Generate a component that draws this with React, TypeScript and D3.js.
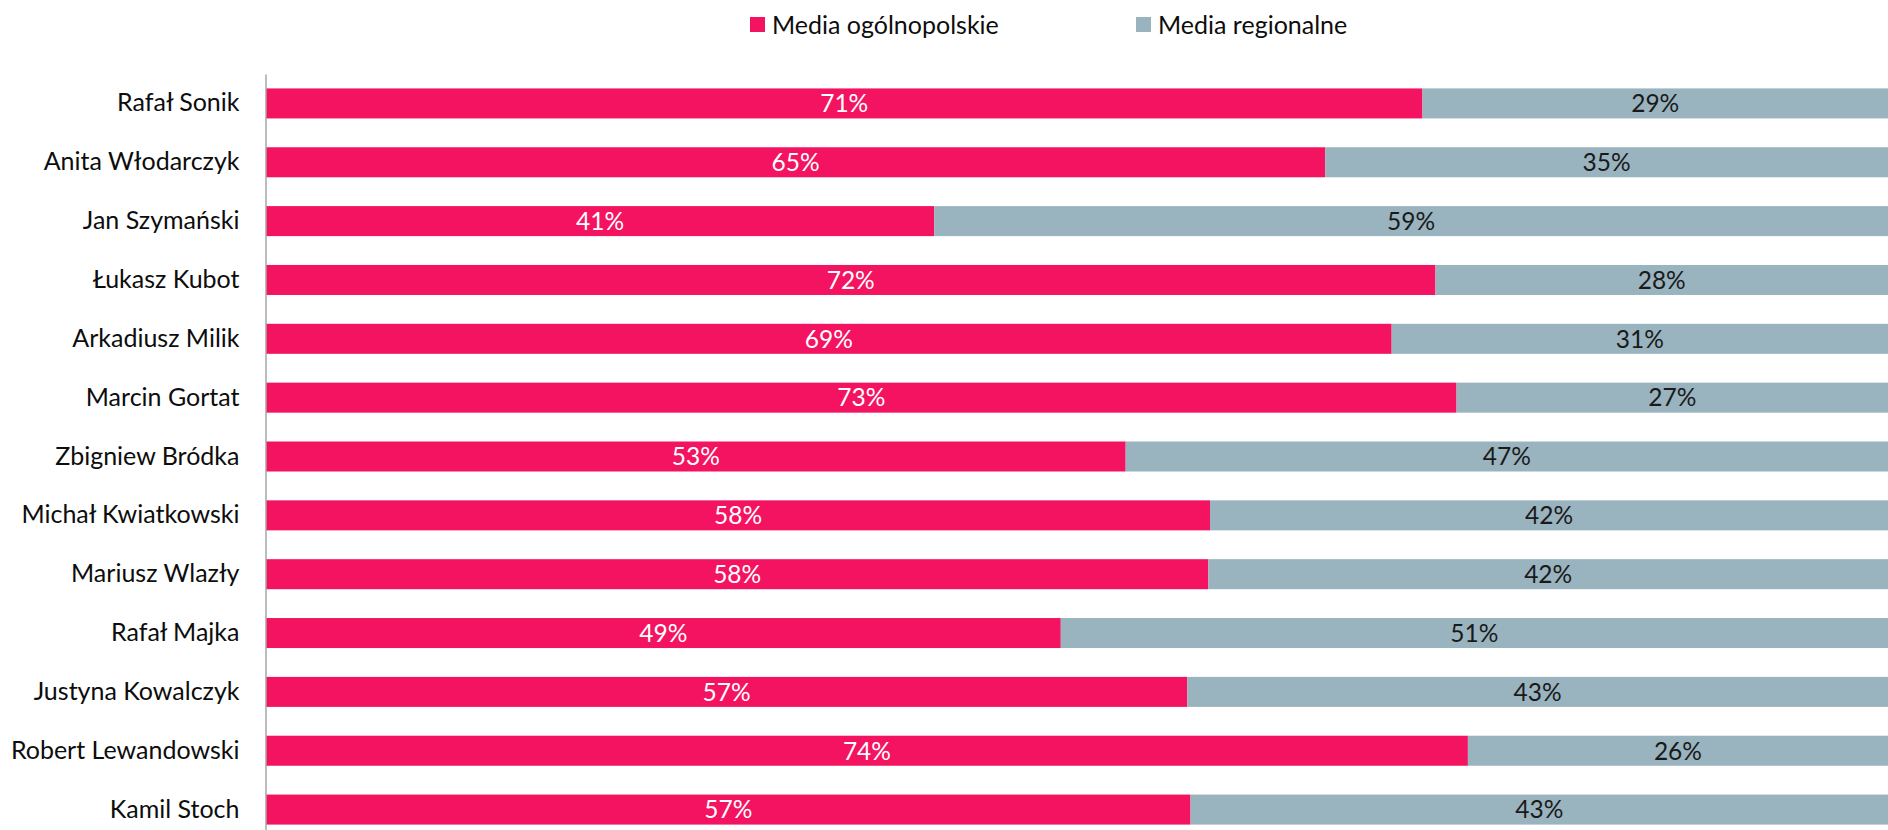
import { useEffect, useRef } from "react";
import * as d3 from "d3";

// athletes, top to bottom
const athletes = [
  "Rafał Sonik",
  "Anita Włodarczyk",
  "Jan Szymański",
  "Łukasz Kubot",
  "Arkadiusz Milik",
  "Marcin Gortat",
  "Zbigniew Bródka",
  "Michał Kwiatkowski",
  "Mariusz Wlazły",
  "Rafał Majka",
  "Justyna Kowalczyk",
  "Robert Lewandowski",
  "Kamil Stoch",
];

// share of coverage, in percent
const nationalShare = [71.3, 65.3, 41.2, 72.1, 69.4, 73.4, 53.0, 58.2, 58.1, 49.0, 56.8, 74.1, 57.0];
const regionalShare = [28.7, 34.7, 58.8, 27.9, 30.6, 26.6, 47.0, 41.8, 41.9, 51.0, 43.2, 25.9, 43.0];

const seriesKeys = ["national", "regional"];
const seriesNames = ["Media ogólnopolskie", "Media regionalne"];
const seriesColors = ["#F41360", "#99B3BF"];
const labelColors = ["#ffffff", "#1a1a1a"];

const FONT = "Lato, 'Open Sans', sans-serif";

function App() {
  const ref = useRef(null);

  useEffect(() => {
    document.body.style.margin = "0";

    const width = 1888;
    const height = 830;

    const root = d3.select(ref.current);
    root.selectAll("*").remove();

    const svg = root
      .append("svg")
      .attr("width", width)
      .attr("height", height)
      .style("display", "block")
      .style("font-family", FONT);

    const rows = athletes.map((name, i) => ({
      name,
      national: nationalShare[i],
      regional: regionalShare[i],
    }));

    const x = d3.scaleLinear().domain([0, 100]).range([266, width]);
    const y = d3
      .scaleBand()
      .domain(athletes)
      .range([74, 839])
      .paddingInner(0.49)
      .paddingOuter(0.245);

    const stacked = d3.stack().keys(seriesKeys)(rows);

    // bars
    const groups = svg
      .selectAll("g.series")
      .data(stacked)
      .enter()
      .append("g")
      .attr("class", "series")
      .attr("fill", (d, i) => seriesColors[i]);

    groups
      .selectAll("rect")
      .data((d) => d)
      .enter()
      .append("rect")
      .attr("x", (d) => x(d[0]))
      .attr("y", (d) => y(d.data.name))
      .attr("width", (d) => x(d[1]) - x(d[0]))
      .attr("height", y.bandwidth());

    // data labels
    stacked.forEach((s, si) => {
      svg
        .append("g")
        .selectAll("text")
        .data(s)
        .enter()
        .append("text")
        .attr("x", (d) => (x(d[0]) + x(d[1])) / 2)
        .attr("y", (d) => y(d.data.name) + y.bandwidth() / 2)
        .attr("dy", "0.36em")
        .attr("text-anchor", "middle")
        .attr("fill", labelColors[si])
        .style("font-size", "24.5px")
        .text((d) => `${Math.round(d[1] - d[0])}%`);
    });

    // category axis
    const axis = svg
      .append("g")
      .attr("transform", `translate(265.5,0)`)
      .call(d3.axisLeft(y).tickSize(0).tickPadding(26));
    axis.select(".domain").attr("stroke", "#a6a6a6").attr("stroke-width", 1.5);
    axis
      .selectAll("text")
      .attr("fill", "#0d0d0d")
      .style("font-size", "25px")
      .style("font-family", FONT);

    // legend
    const legend = svg.append("g");
    const legendX = [750, 1136];
    seriesNames.forEach((name, i) => {
      const g = legend.append("g").attr("transform", `translate(${legendX[i]},0)`);
      g.append("rect")
        .attr("x", 0)
        .attr("y", 17)
        .attr("width", 15)
        .attr("height", 15)
        .attr("fill", seriesColors[i]);
      g.append("text")
        .attr("x", 22)
        .attr("y", 25)
        .attr("dy", "0.36em")
        .attr("fill", "#0d0d0d")
        .style("font-size", "25px")
        .text(name);
    });
  }, []);

  return <div ref={ref}></div>;
}

export default App;
